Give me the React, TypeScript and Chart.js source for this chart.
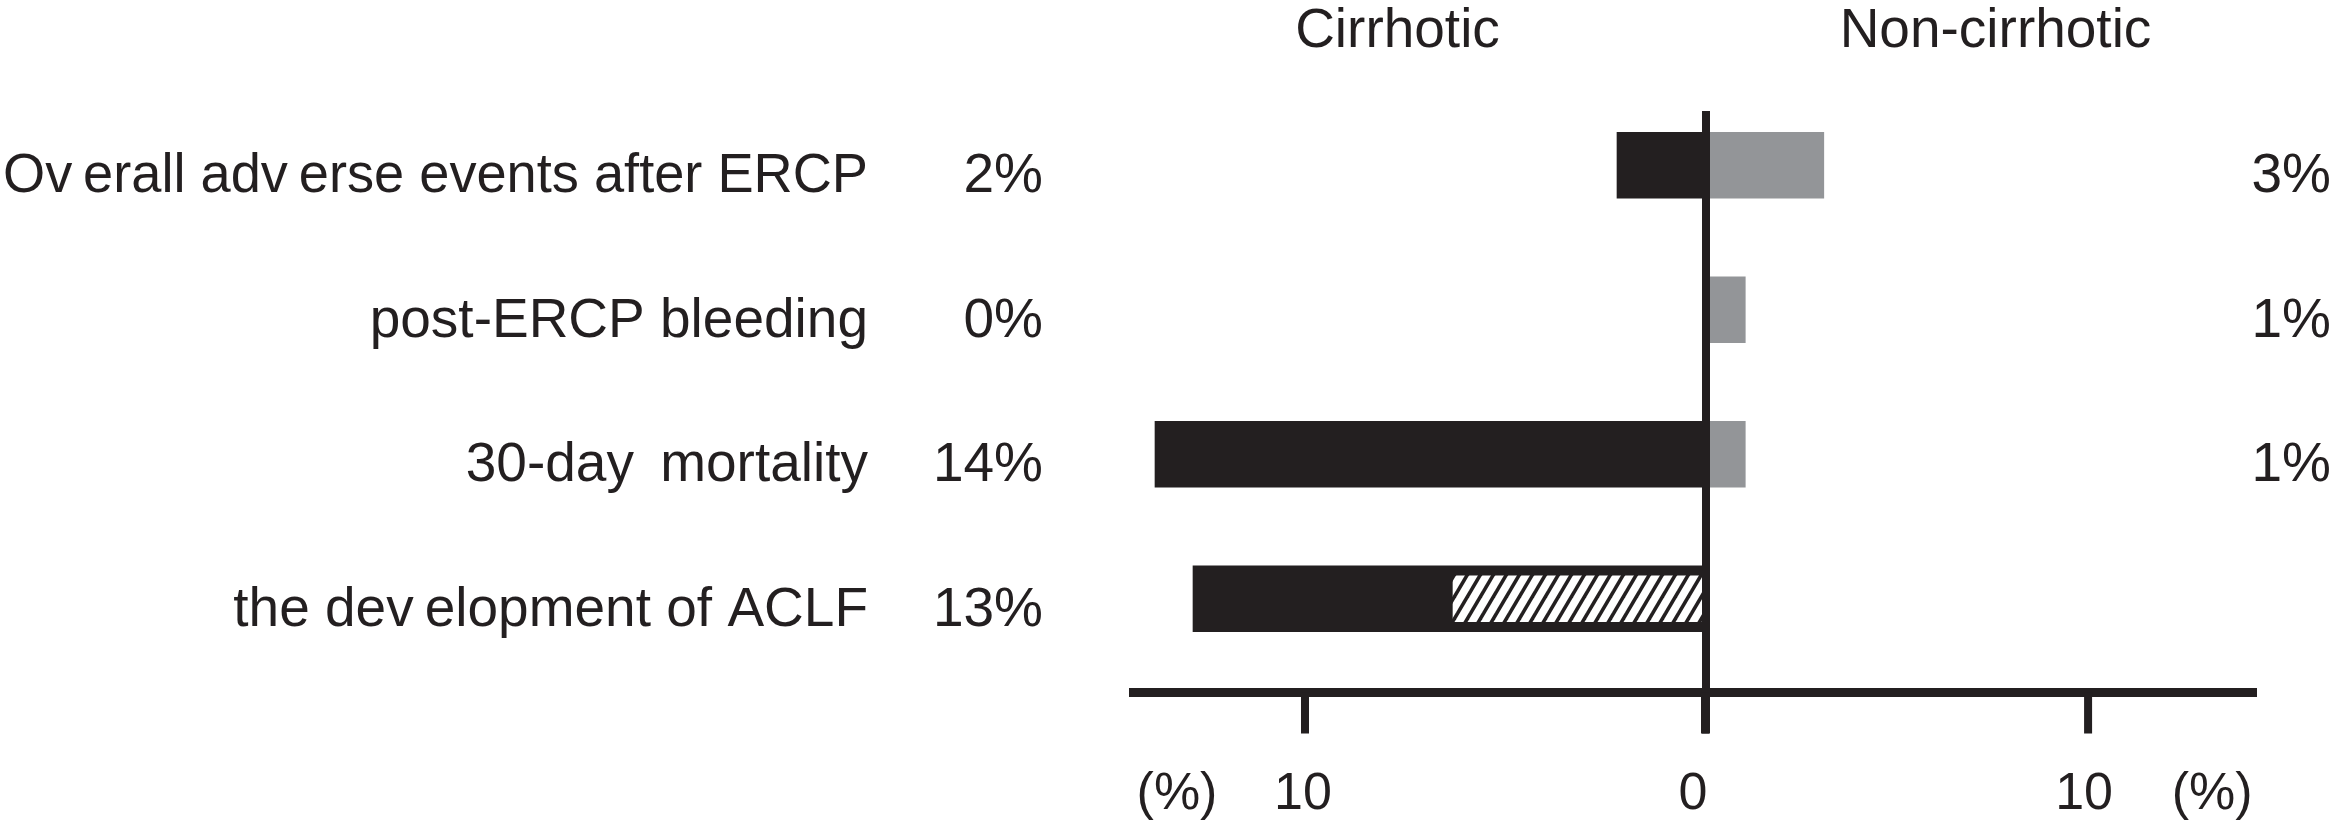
import React, { useEffect, useRef } from 'react';
import { Chart, registerables } from 'chart.js';

Chart.register(...registerables);

// ---- data ----
const categories = [
  'Ov\u2009erall adv\u2009erse events after ERCP',
  'post-ERCP bleeding',
  '30-day\u2009 mortality',
  'the dev\u2009elopment of ACLF',
];
const cirrhotic = [2.2, 0, 13.75, 12.8];
const aclfHatched = [0, 0, 0, 6.3];
const nonCirrhotic = [3.1, 1.05, 1.05, 0];
const cirrhoticLabels = ['2%', '0%', '14%', '13%'];
const nonCirrhoticLabels = ['3%', '1%', '1%', ''];
const groupTitles = ['Cirrhotic', 'Non-cirrhotic'];
const leftTicks = [10, 0];
const rightTicks = [10];
const unitLabel = '(%)';

const BLACK = '#231f20';
const GRAY = '#939598';
const FONT = '"Liberation Sans", Arial, Helvetica, sans-serif';

function makeHatch(): CanvasPattern | string {
  const c = document.createElement('canvas');
  const w = 13;
  const h = 22;
  c.width = w;
  c.height = h;
  const g = c.getContext('2d');
  if (!g) return '#ffffff';
  g.fillStyle = '#ffffff';
  g.fillRect(0, 0, w, h);
  g.strokeStyle = BLACK;
  g.lineWidth = 3.6;
  for (let k = -1; k <= 1; k++) {
    g.beginPath();
    g.moveTo(k * w - w, 2 * h);
    g.lineTo((k + 1) * w + w, -h);
    g.stroke();
  }
  return g.createPattern(c, 'repeat') || '#ffffff';
}

const overlayPlugin = {
  id: 'overlay',
  afterDatasetsDraw(chart: any) {
    const ctx = chart.ctx as CanvasRenderingContext2D;
    const xL = chart.scales.xL;
    const xR = chart.scales.xR;
    const y = chart.scales.y;
    const area = chart.chartArea;
    const x0 = xL.getPixelForValue(0);
    const axisY = area.bottom + 21.5;
    const lineTop = area.top + 18;
    const tickBottom = axisY + 41;
    ctx.save();
    ctx.fillStyle = BLACK;
    // zero line
    ctx.fillRect(x0 - 3, lineTop, 8, tickBottom - lineTop);
    // horizontal axis
    ctx.fillRect(area.left, axisY - 4.5, area.right - area.left, 9);
    // ticks
    const tickPx: number[] = [];
    leftTicks.forEach((v) => tickPx.push(xL.getPixelForValue(-v)));
    rightTicks.forEach((v) => tickPx.push(xR.getPixelForValue(v)));
    tickPx.forEach((p) => ctx.fillRect(p - 4, axisY, 8, tickBottom - axisY));

    // tick labels
    ctx.font = `52px ${FONT}`;
    ctx.textAlign = 'center';
    ctx.textBaseline = 'alphabetic';
    const labY = tickBottom + 75;
    const tl = xL.getPixelForValue(-leftTicks[0]);
    const tr = xR.getPixelForValue(rightTicks[0]);
    ctx.fillText(String(leftTicks[0]), tl - 2, labY);
    ctx.fillText(String(leftTicks[1]), x0 - 12, labY);
    ctx.fillText(String(rightTicks[0]), tr - 4, labY);
    ctx.fillText(unitLabel, tl - 128, labY);
    ctx.fillText(unitLabel, tr + 124, labY);

    // row labels + percentages
    ctx.font = `55px ${FONT}`;
    ctx.textAlign = 'right';
    const labelRight = area.left - 261;
    categories.forEach((c, i) => {
      const yc = y.getPixelForValue(i) + 27;
      ctx.fillText(c, labelRight, yc, labelRight - 3);
      ctx.fillText(cirrhoticLabels[i], area.left - 86, yc);
      if (nonCirrhoticLabels[i]) ctx.fillText(nonCirrhoticLabels[i], chart.width - 2, yc);
    });

    // group titles
    ctx.textAlign = 'center';
    ctx.fillText(groupTitles[0], x0 - 307.5, 47);
    ctx.fillText(groupTitles[1], x0 + 290.5, 47);
    ctx.restore();
  },
};

export default function App() {
  const ref = useRef<HTMLCanvasElement | null>(null);

  useEffect(() => {
    if (!ref.current) return;
    const hatch = makeHatch();
    const chart = new Chart(ref.current, {
      type: 'bar',
      data: {
        labels: categories,
        datasets: [
          {
            label: 'Cirrhotic',
            data: cirrhotic.map((v) => -v),
            xAxisID: 'xL',
            backgroundColor: BLACK,
            barThickness: 66,
            grouped: false,
            order: 2,
          } as any,
          {
            label: 'ACLF subset',
            data: aclfHatched.map((v) => -v),
            xAxisID: 'xL',
            backgroundColor: hatch,
            barThickness: 46,
            grouped: false,
            order: 1,
          } as any,
          {
            label: 'Non-cirrhotic',
            data: nonCirrhotic,
            xAxisID: 'xR',
            backgroundColor: GRAY,
            barThickness: 66,
            grouped: false,
            order: 2,
          } as any,
        ],
      },
      options: {
        indexAxis: 'y',
        animation: false,
        responsive: true,
        maintainAspectRatio: false,
        devicePixelRatio: 1,
        layout: { padding: { left: 1129, right: 76, top: 93, bottom: 150 } },
        plugins: { legend: { display: false }, tooltip: { enabled: false } },
        scales: {
          y: { type: 'category', display: false, offset: true },
          xL: { type: 'linear', axis: 'x', position: 'bottom', display: false, min: -14.4, max: 13.8 },
          xR: { type: 'linear', axis: 'x', position: 'bottom', display: false, min: -15.04, max: 14.41 },
        } as any,
      },
      plugins: [overlayPlugin],
    });
    return () => chart.destroy();
  }, []);

  return (
    <div style={{ position: 'absolute', left: 0, top: 0, width: 2333, height: 821, background: '#ffffff' }}>
      <canvas ref={ref} />
    </div>
  );
}
